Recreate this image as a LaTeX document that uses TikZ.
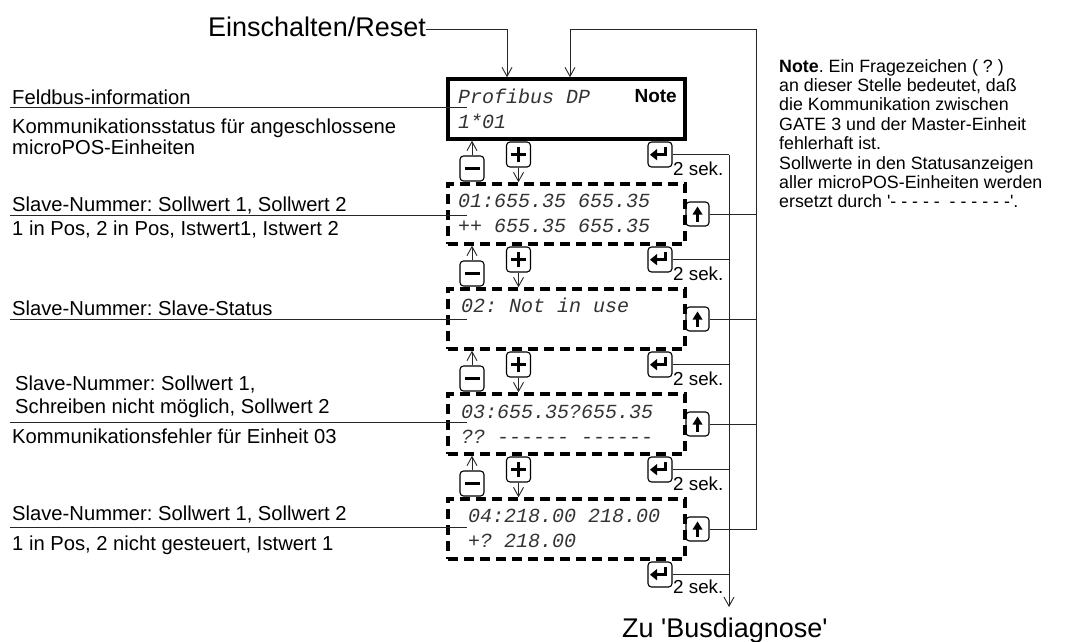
\documentclass[tikz,border=0pt]{standalone}
\usepackage{fontspec}
\setmainfont{Liberation Sans}
\setmonofont{Liberation Mono}
\usetikzlibrary{arrows.meta,calc}
\frenchspacing
\tikzset{
  minussym/.pic={\fill (-7.5,-1.6) rectangle (7.5,1.6);},
  plussym/.pic={\fill (-7.5,-1.5) rectangle (7.5,1.5); \fill (-1.5,-7.5) rectangle (1.5,7.5);},
  entersym/.pic={\fill (-3,-1.5) rectangle (7,1.8); \fill (3.7,-8) rectangle (7,1.8);
                 \fill (-10,0.2) -- (-3,-5.5) -- (-3,5.8) -- cycle;},
  upsym/.pic={\fill (-1.3,0) rectangle (1.3,8); \fill (-5,0.5) -- (5,0.5) -- (0,-7.5) -- cycle;}
}
\begin{document}
\begin{tikzpicture}[x=1pt,y=-1pt,
  lbl/.style={anchor=base west, inner sep=0, font=\frenchspacing\fontsize{20.2}{22}\selectfont},
  notetxt/.style={anchor=base west, inner sep=0, font=\frenchspacing\fontsize{17.8}{19}\selectfont},
  lcd/.style={anchor=base west, inner sep=0, font=\ttfamily\itshape\fontsize{20}{22}\selectfont, text=black!80},
  sek/.style={anchor=base west, inner sep=0, font=\fontsize{18.8}{20}\selectfont},
  big/.style={anchor=base west, inner sep=0, font=\fontsize{27}{30}\selectfont},
  scr/.style={draw, line width=3.5pt, minimum width=237pt, minimum height=60pt, inner sep=0},
  dscr/.style={scr, dash pattern=on 10pt off 6pt},
  btn/.style={draw, line width=1.1pt, rounded corners=3.5pt, minimum width=24pt, minimum height=25pt, inner sep=0},
  ubtn/.style={btn, minimum width=23pt, minimum height=24pt},
  wire/.style={line width=0.9pt, draw=black!85},
  arr/.style={wire, -{Straight Barb[length=9pt,width=10pt,line width=0.9pt]}},
]
\useasboundingbox (0,0) rectangle (1088,641);

% screens
\node[scr]  (b1) at (566.5,109) {};
\node[dscr] (b2) at (566.5,214) {};
\node[dscr] (b3) at (566.5,319) {};
\node[dscr] (b4) at (566.5,424) {};
\node[dscr] (b5) at (566.5,529) {};

% screen texts
\node[lcd] (t1a) at (458,103) {Profibus DP};
\node[lcd] (t1b) at (458,128) {1*01};
\node[anchor=base east, inner sep=0, font=\bfseries\fontsize{19}{20}\selectfont] (nt) at (677,102) {Note};
\node[lcd] (t2a) at (458,207) {01:655.35 655.35};
\node[lcd] (t2b) at (458,232) {++ 655.35 655.35};
\node[lcd] (t3a) at (461,312) {02: Not in use};
\node[lcd] (t4a) at (461,418) {03:655.35?655.35};
\node[lcd] (t4b) at (461,443) {?? ------ ------};
\node[lcd] (t5a) at (468,522) {04:218.00 218.00};
\node[lcd] (t5b) at (468,547) {+? 218.00};

% buttons between screens
\foreach \k/\n/\b in {1/2/139,2/3/244,3/4/349,4/5/454}{
  \node[btn] (pl\k) at (518.5,\b+15.5) {};
  \pic at (pl\k) {plussym};
  \node[btn] (mi\k) at (472,\b+29.5) {};
  \pic at (mi\k) {minussym};
  \node[btn] (en\k) at (660,\b+15.5) {};
  \pic at (en\k) {entersym};
  \node[sek] (s\k) at (673,\b+36) {2 sek.};
  \draw[arr] (mi\k.north) -- (mi\k.north |- b\k.south);
  \draw[arr] (pl\k.south) -- (pl\k.south |- b\n.north);
}
\node[btn] (en5) at (660,574.5) {};
\pic at (en5) {entersym};
\node[sek] (s5) at (673,593) {2 sek.};

% up buttons
\foreach \k in {2,3,4,5}{
  \node[ubtn] (up\k) at (697.5,0 |- b\k.center) {};
  \pic at (up\k) {upsym};
}

% enter bus
\coordinate (ebot) at (729,607);
\foreach \k in {1,2,3,4,5}{
  \draw[wire] (en\k.east) -- (en\k.east -| ebot);
}
\draw[arr] (en1.east -| ebot) -- (ebot);

% return bus
\coordinate (rtop) at (756,29);
\coordinate (rin) at (570,29);
\foreach \k in {2,3,4}{
  \draw[wire] (up\k.east) -- (up\k.east -| rtop);
}
\draw[arr] (up5.east) -- (up5.east -| rtop) -- (rtop) -- (rin) -- (rin |- b1.north);

% Einschalten
\node[big] (ein) at (208,36) {Einschalten/Reset};
\coordinate (ein1) at (507,29);
\draw[arr] (ein.east |- ein1) -- (ein1) -- (ein1 |- b1.north);

% bottom
\node[big] (zu) at (622,637) {Zu \textquotesingle Busdiagnose\textquotesingle};

% left labels
\node[lbl] (l1a) at (12,104) {Feldbus-information};
\node[lbl] (l1b) at (12,133) {Kommunikationsstatus für angeschlossene};
\node[lbl] (l1c) at (12,154) {microPOS-Einheiten};
\node[lbl] (l2a) at (12,211) {Slave-Nummer: Sollwert 1, Sollwert 2};
\node[lbl] (l2b) at (12,235) {1 in Pos, 2 in Pos, Istwert1, Istwert 2};
\node[lbl] (l3a) at (12,315) {Slave-Nummer: Slave-Status};
\node[lbl] (l4a) at (15,390) {Slave-Nummer: Sollwert 1,};
\node[lbl] (l4b) at (15,413) {Schreiben nicht möglich, Sollwert 2};
\node[lbl] (l4c) at (12,443) {Kommunikationsfehler für Einheit 03};
\node[lbl] (l5a) at (12,520) {Slave-Nummer: Sollwert 1, Sollwert 2};
\node[lbl] (l5b) at (12,550) {1 in Pos, 2 nicht gesteuert, Istwert 1};

\foreach \k/\y in {1/107,2/215,3/319,4/422,5/527}{
  \coordinate (la\k) at (10,\y);
  \coordinate (lz\k) at (467,\y);
  \draw[wire] (la\k) -- (lz\k);
}

% note
\foreach \i/\t in {0/{\textbf{Note}. Ein Fragezeichen ( ? )},
                   1/{an dieser Stelle bedeutet, daß},
                   2/{die Kommunikation zwischen},
                   3/{GATE 3 und der Master-Einheit},
                   4/{fehlerhaft ist.},
                   5/{Sollwerte in den Statusanzeigen},
                   6/{aller microPOS-Einheiten werden},
                   7/{ersetzt durch \textquotesingle- - - - -\ \ - - - - - -\textquotesingle.}}{
  \node[notetxt] (n\i) at (779,72+19.4*\i) {\t};
}
\end{tikzpicture}
\end{document}
